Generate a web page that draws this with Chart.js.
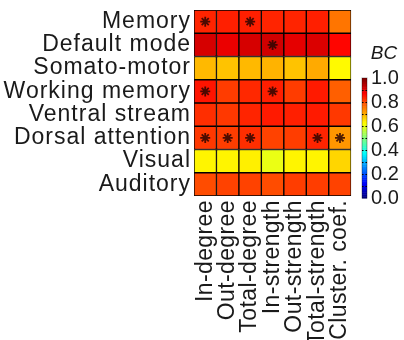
<!DOCTYPE html>
<html>
<head>
<meta charset="utf-8">
<script src="https://cdn.jsdelivr.net/npm/chart.js@4.4.1/dist/chart.umd.min.js"></script>
<style>
  html, body { margin: 0; padding: 0; background: #fff; }
  #wrap { position: relative; width: 404px; height: 340px; overflow: hidden; }
  #heat { position: absolute; left: 0; top: 0; }
  #cbar { position: absolute; left: 355px; top: 40px; }
  #bcTitle { position: absolute; left: 369px; top: 42px; width: 30px; text-align: center;
    font: italic 19px "Liberation Sans", Arial, sans-serif; color: #1a1a1a; }
</style>
</head>
<body>
<div id="wrap">
  <canvas id="heat" width="358" height="340"></canvas>
  <canvas id="cbar" width="49" height="180"></canvas>
  <div id="bcTitle">BC</div>
</div>
<script>
// Networks (rows) and graph measures (columns)
const networks = ['Memory', 'Default mode', 'Somato-motor', 'Working memory',
                  'Ventral stream', 'Dorsal attention', 'Visual', 'Auditory'];
const measures = ['In-degree', 'Out-degree', 'Total-degree', 'In-strength',
                  'Out-strength', 'Total-strength', 'Cluster. coef.'];

// BC value for each network, one array per row
const bcMemory          = [0.84, 0.845, 0.845, 0.84, 0.84, 0.845, 0.76];
const bcDefaultMode     = [0.915, 0.895, 0.915, 0.92, 0.90, 0.91, 0.87];
const bcSomatoMotor     = [0.694, 0.684, 0.694, 0.70, 0.684, 0.708, 0.63];
const bcWorkingMemory   = [0.855, 0.816, 0.836, 0.846, 0.816, 0.85, 0.782];
const bcVentralStream   = [0.83, 0.82, 0.84, 0.85, 0.845, 0.85, 0.82];
const bcDorsalAttention = [0.82, 0.815, 0.83, 0.81, 0.815, 0.84, 0.728];
const bcVisual          = [0.635, 0.635, 0.64, 0.605, 0.635, 0.635, 0.665];
const bcAuditory        = [0.80, 0.81, 0.81, 0.80, 0.815, 0.815, 0.81];

const bcRows = [bcMemory, bcDefaultMode, bcSomatoMotor, bcWorkingMemory,
                bcVentralStream, bcDorsalAttention, bcVisual, bcAuditory];

// Significant cells marked with an asterisk: [network, measure]
const significant = [
  ['Memory', 'In-degree'], ['Memory', 'Total-degree'],
  ['Default mode', 'In-strength'],
  ['Working memory', 'In-degree'], ['Working memory', 'In-strength'],
  ['Dorsal attention', 'In-degree'], ['Dorsal attention', 'Out-degree'],
  ['Dorsal attention', 'Total-degree'], ['Dorsal attention', 'Total-strength'],
  ['Dorsal attention', 'Cluster. coef.']
];

const colorbarTicks = [0, 0.2, 0.4, 0.6, 0.8, 1.0];

// Jet colormap
function jet(v) {
  const c = x => Math.round(255 * Math.max(0, Math.min(1, x)));
  const r = c(1.5 - Math.abs(4 * v - 3));
  const g = c(1.5 - Math.abs(4 * v - 2));
  const b = c(1.5 - Math.abs(4 * v - 1));
  return `rgb(${r},${g},${b})`;
}

const FONT = '"Liberation Sans", Arial, sans-serif';
const TEXT = '#1a1a1a';

// Axis sizes are fixed by hand, so drop the edge padding reserved for labels
function fixSize(prop, size) {
  return s => {
    s[prop] = size;
    s.paddingLeft = s.paddingRight = s.paddingTop = s.paddingBottom = 0;
  };
}

// Slightly looser tracking for the axis labels
const labelSpacing = {
  id: 'labelSpacing',
  afterLayout(chart, args, opts) {
    Object.entries(opts.spacing || {}).forEach(([id, sp]) => {
      const scale = chart.scales[id];
      if (!scale || scale._spaced) return;
      const orig = scale.drawLabels;
      scale.drawLabels = function (area) {
        const ctx = this.ctx;
        ctx.save();
        ctx.letterSpacing = sp;
        orig.call(this, area);
        ctx.restore();
      };
      scale._spaced = true;
    });
  }
};

// Heatmap: each network is a row of floating bars spanning [i, i+1]
const rowDatasets = networks.map((name, i) => ({
  type: 'bar',
  label: name,
  data: measures.map(() => [i, i + 1]),
  backgroundColor: bcRows[i].map(jet),
  borderColor: '#000',
  borderWidth: 1,
  borderSkipped: false,
  grouped: false,
  barPercentage: 1,
  categoryPercentage: 1,
  order: 2
}));

const starDataset = {
  type: 'line',
  label: 'significant',
  data: significant.map(([n, m]) => ({ x: m, y: networks.indexOf(n) + 0.5 })),
  showLine: false,
  pointStyle: 'star',
  pointRadius: 5,
  pointBorderWidth: 1.8,
  pointBorderColor: 'rgba(45,5,0,0.85)',
  pointBackgroundColor: 'rgba(45,5,0,0.85)',
  order: 0
};

new Chart(document.getElementById('heat'), {
  type: 'bar',
  data: { labels: measures, datasets: [...rowDatasets, starDataset] },
  plugins: [labelSpacing],
  options: {
    responsive: false,
    animation: false,
    layout: { padding: { top: 10, right: 1, left: 0, bottom: 0 } },
    plugins: {
      legend: { display: false }, tooltip: { enabled: false },
      labelSpacing: { spacing: { y: '1px', x: '0.4px' } }
    },
    scales: {
      x: {
        type: 'category',
        offset: true,
        grid: { display: false, drawTicks: false },
        border: { display: false },
        ticks: {
          autoSkip: false, minRotation: 90, maxRotation: 90, padding: 4,
          color: TEXT, font: { family: FONT, size: 23 }
        },
        afterFit: fixSize('height', 144)
      },
      y: {
        type: 'linear',
        min: 0, max: 8, reverse: true,
        grid: { display: false, drawTicks: false },
        border: { display: false },
        afterBuildTicks: s => { s.ticks = networks.map((_, i) => ({ value: i + 0.5 })); },
        ticks: {
          autoSkip: false, padding: 3, color: TEXT,
          font: { family: FONT, size: 23 },
          callback: v => networks[Math.floor(v)]
        },
        afterFit: fixSize('width', 194)
      }
    }
  }
});

// Colorbar: jet gradient painted along the BC scale
const colorbarFill = {
  id: 'colorbarFill',
  beforeDatasetsDraw(chart) {
    const { ctx, chartArea: a } = chart;
    const y = chart.scales.y;
    const steps = 64;
    for (let k = 0; k < steps; k++) {
      const v0 = k / steps, v1 = (k + 1) / steps;
      const p0 = y.getPixelForValue(v0), p1 = y.getPixelForValue(v1);
      ctx.fillStyle = jet((v0 + v1) / 2);
      ctx.fillRect(a.left, p1, a.right - a.left, p0 - p1 + 0.5);
    }
    ctx.strokeStyle = '#000';
    ctx.lineWidth = 1;
    for (let t = 1; t < 10; t++) {
      const p = Math.round(y.getPixelForValue(t / 10)) + 0.5;
      ctx.beginPath();
      ctx.moveTo(a.left, p); ctx.lineTo(a.left + 1.5, p);
      ctx.moveTo(a.right - 1.5, p); ctx.lineTo(a.right, p);
      ctx.stroke();
    }
    ctx.strokeStyle = 'rgba(0,0,0,0.35)';
    ctx.strokeRect(a.left, a.top, a.right - a.left, a.bottom - a.top);
  }
};

new Chart(document.getElementById('cbar'), {
  type: 'bar',
  data: { labels: ['BC'], datasets: [{ data: [null] }] },
  plugins: [colorbarFill],
  options: {
    responsive: false,
    animation: false,
    layout: { padding: { top: 38, bottom: 22, left: 7, right: 0 } },
    plugins: { legend: { display: false }, tooltip: { enabled: false } },
    scales: {
      x: { display: false },
      y: {
        position: 'right',
        min: 0, max: 1,
        grid: { display: false, drawTicks: false },
        border: { display: false },
        afterBuildTicks: s => { s.ticks = colorbarTicks.map(v => ({ value: v })); },
        ticks: {
          autoSkip: false, padding: 4, color: TEXT, font: { family: FONT, size: 20 },
          callback: v => v.toFixed(1)
        },
        afterFit: fixSize('width', 37)
      }
    }
  }
});
</script>
</body>
</html>
